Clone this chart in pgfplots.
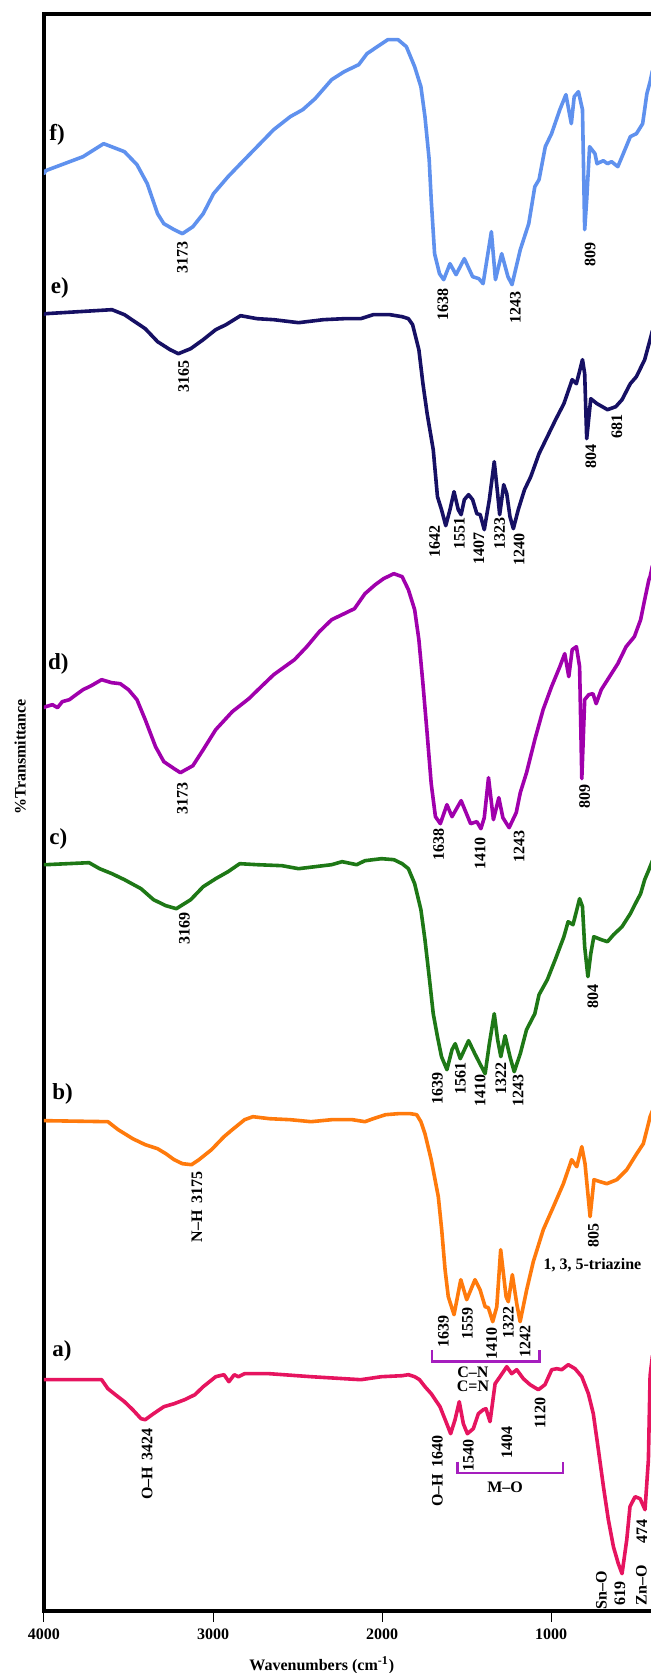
\documentclass[border=0pt]{standalone}
\usepackage{fontspec}
\setmainfont{Liberation Serif}
\usepackage{pgfplots}
\pgfplotsset{compat=1.18}
\usetikzlibrary{calc}
\definecolor{cf}{RGB}{95,145,238}
\definecolor{ce}{RGB}{22,16,100}
\definecolor{cd}{RGB}{160,0,172}
\definecolor{cc}{RGB}{30,120,22}
\definecolor{cb}{RGB}{255,122,12}
\definecolor{ca}{RGB}{230,20,95}
\definecolor{cbr}{RGB}{165,30,190}
\newcommand{\lf}{\fontsize{8}{9.6}\selectfont\bfseries}
\newcommand{\pf}{\fontsize{11.5}{13}\selectfont\bfseries}
\tikzset{pk/.style={rotate=90,font=\lf,inner sep=0pt},
 pl/.style={font=\pf,inner sep=0pt,anchor=west}}
\begin{document}
\begin{tikzpicture}
\begin{axis}[name=ax, scale only axis, width=306pt, height=798.2pt,
 x dir=reverse, xmin=379, xmax=4000, ymin=0, ymax=1596.4,
 axis line style={line width=2pt},
 xtick={4000,3000,2000,1000}, xticklabels={4000,3000,2000,1000},
 xtick pos=left, ytick=\empty,
 tick align=outside, major tick length=5.5pt,
 tick style={line width=0.5pt,black},
 xticklabel style={font=\lf},
 xlabel={Wavenumbers (cm\textsuperscript{-1})},
 xlabel style={font=\lf, at={(axis description cs:0.454,-0.034)}, anchor=center},
 ylabel={\%Transmittance},
 ylabel style={font=\lf, at={(axis description cs:-0.039,0.535)}, anchor=center},
 clip mode=individual,
 every axis plot/.append style={line width=1.8pt, line join=round, line cap=round},
]
% f
\addplot[cf] coordinates {(4000,1437)(3990,1440)(3769,1454)(3647,1467)(3524,1459)(3450,1446)(3389,1427)(3328,1397)(3291,1387)(3230,1381)(3181,1377)(3119,1384)(3058,1397)(2997,1417)(2911,1434)(2837,1447)(2739,1464)(2641,1481)(2543,1494)(2469,1501)(2396,1512)(2298,1531)(2224,1539)(2138,1546)(2089,1557)(2028,1564)(1966,1571)(1905,1571)(1856,1564)(1807,1544)(1770,1524)(1746,1494)(1721,1451)(1709,1411)(1689,1357)(1660,1337)(1635,1331)(1598,1347)(1562,1336)(1513,1352)(1464,1334)(1427,1332)(1402,1327)(1353,1379)(1329,1331)(1292,1357)(1255,1334)(1231,1326)(1182,1361)(1132,1387)(1096,1424)(1071,1431)(1034,1464)(997,1477)(948,1501)(912,1516)(880,1487)(863,1514)(838,1519)(814,1501)(801,1381)(789,1411)(772,1464)(740,1457)(728,1447)(691,1450)(666,1447)(642,1449)(605,1444)(580,1454)(531,1474)(495,1477)(458,1487)(433,1517)(414,1529)(400,1540)};
% e
\addplot[ce] coordinates {(4000,1296)(3990,1297)(3598,1301)(3524,1296)(3401,1282)(3328,1269)(3254,1261)(3205,1257)(3132,1262)(3058,1271)(2984,1281)(2923,1286)(2837,1295)(2739,1292)(2641,1291)(2494,1288)(2347,1291)(2224,1292)(2126,1292)(2052,1296)(1954,1296)(1881,1294)(1844,1292)(1819,1286)(1782,1261)(1758,1227)(1733,1197)(1697,1161)(1672,1114)(1648,1101)(1623,1085)(1598,1101)(1574,1119)(1549,1101)(1532,1096)(1513,1111)(1488,1116)(1464,1111)(1439,1097)(1419,1096)(1395,1081)(1365,1111)(1336,1149)(1316,1117)(1304,1096)(1280,1126)(1262,1117)(1243,1094)(1223,1082)(1194,1101)(1157,1121)(1120,1134)(1071,1157)(1022,1174)(973,1191)(924,1207)(875,1231)(850,1227)(814,1251)(801,1237)(789,1172)(765,1212)(728,1207)(666,1201)(617,1204)(580,1211)(531,1227)(495,1234)(446,1251)(414,1271)(400,1280)};
% d
\addplot[cd] coordinates {(4000,903)(3990,904)(3950,906)(3920,903)(3892,909)(3850,911)(3810,916)(3769,921)(3720,925)(3659,931)(3600,928)(3549,927)(3500,921)(3450,911)(3401,891)(3340,864)(3291,849)(3230,842)(3193,838)(3119,845)(3058,861)(2984,881)(2886,899)(2788,912)(2715,924)(2641,936)(2518,951)(2445,964)(2371,979)(2298,991)(2224,997)(2163,1002)(2101,1017)(2040,1026)(1991,1032)(1930,1037)(1881,1034)(1844,1021)(1807,1001)(1782,971)(1758,927)(1733,877)(1709,827)(1684,794)(1655,787)(1616,806)(1586,794)(1532,810)(1476,787)(1439,789)(1415,782)(1395,793)(1370,833)(1341,791)(1309,813)(1285,793)(1248,783)(1206,798)(1182,818)(1145,838)(1096,871)(1047,901)(997,924)(948,944)(919,957)(895,934)(875,961)(850,964)(831,944)(818,832)(801,911)(777,916)(752,917)(733,907)(703,921)(654,934)(605,947)(556,964)(507,974)(470,991)(446,1011)(421,1031)(414,1034)(400,1045)};
% c
\addplot[cc] coordinates {(4000,746)(3990,746)(3733,748)(3671,742)(3598,737)(3524,731)(3426,722)(3352,711)(3279,705)(3217,702)(3132,711)(3058,724)(2984,732)(2911,739)(2842,747)(2739,746)(2592,745)(2494,742)(2396,744)(2298,746)(2236,749)(2150,746)(2101,750)(2003,752)(1930,751)(1881,747)(1844,742)(1807,727)(1770,701)(1746,671)(1721,634)(1697,597)(1672,574)(1648,554)(1616,541)(1586,561)(1567,567)(1537,552)(1488,570)(1451,557)(1427,549)(1390,537)(1365,567)(1336,597)(1316,571)(1297,554)(1272,575)(1243,554)(1218,539)(1182,557)(1145,581)(1096,597)(1071,616)(1022,631)(973,652)(924,674)(899,689)(870,686)(831,712)(814,704)(801,664)(782,634)(765,657)(747,674)(703,671)(666,669)(630,676)(580,684)(531,697)(495,709)(470,717)(446,731)(421,741)(414,744)(400,750)};
% b
\addplot[cb] coordinates {(4000,490)(3990,490)(3622,489)(3561,481)(3475,472)(3401,466)(3328,462)(3279,457)(3230,451)(3181,447)(3127,446)(3083,451)(3009,461)(2935,474)(2886,481)(2813,491)(2764,494)(2666,492)(2543,491)(2420,489)(2298,491)(2175,491)(2101,489)(2052,492)(1979,496)(1905,497)(1832,497)(1795,496)(1770,489)(1746,477)(1709,451)(1667,414)(1647,381)(1627,341)(1608,314)(1574,296)(1534,331)(1499,311)(1450,331)(1420,321)(1390,304)(1371,303)(1345,289)(1321,304)(1298,361)(1266,314)(1253,309)(1229,336)(1203,307)(1183,289)(1144,321)(1105,349)(1046,381)(986,404)(927,427)(878,451)(848,444)(818,464)(799,447)(769,394)(746,431)(710,429)(670,427)(611,431)(552,441)(493,457)(454,467)(424,487)(414,494)(400,500)};
% a
\addplot[ca] coordinates {(4000,231)(3990,231)(3659,231)(3622,222)(3585,217)(3524,209)(3475,201)(3426,192)(3401,191)(3352,197)(3291,204)(3230,207)(3168,211)(3107,216)(3058,224)(2984,234)(2935,236)(2906,229)(2874,236)(2850,234)(2813,237)(2666,237)(2420,234)(2126,231)(2003,234)(1881,235)(1844,236)(1807,234)(1778,231)(1746,224)(1709,217)(1657,204)(1617,187)(1594,177)(1568,191)(1543,209)(1519,187)(1495,177)(1460,182)(1430,197)(1401,201)(1385,202)(1361,189)(1331,227)(1302,234)(1262,244)(1233,237)(1203,241)(1164,232)(1124,226)(1075,221)(1036,226)(996,241)(966,242)(937,241)(898,246)(858,242)(818,234)(779,217)(750,197)(720,161)(690,124)(661,91)(631,64)(602,47)(580,37)(552,71)(533,104)(503,114)(473,112)(444,101)(424,151)(414,235)(400,255)};
% brackets
\draw[cbr,line width=1.2pt] (axis cs:1706,260.7) -- (axis cs:1706,249) -- (axis cs:1069,249) -- (axis cs:1069,260.7);
\draw[cbr,line width=1.2pt] (axis cs:1554,149) -- (axis cs:1554,137.4) -- (axis cs:931,137.4) -- (axis cs:931,149);
% panel letters
\node[pl] at (axis cs:3970,1475.7) {f)};
\node[pl] at (axis cs:3961,1322.7) {e)};
\node[pl] at (axis cs:3978,946.7) {d)};
\node[pl] at (axis cs:3970,771.7) {c)};
\node[pl] at (axis cs:3953,516.7) {b)};
\node[pl] at (axis cs:3953,259.7) {a)};
% f labels
\node[pk] at (axis cs:3181,1352.7) {3173};
\node[pk] at (axis cs:1640,1305.7) {1638};
\node[pk] at (axis cs:1211,1302.7) {1243};
\node[pk] at (axis cs:769,1355.7) {809};
% e labels
\node[pk] at (axis cs:3173,1233.7) {3165};
\node[pk] at (axis cs:1689,1068.7) {1642};
\node[pk] at (axis cs:1542,1076.7) {1551};
\node[pk] at (axis cs:1427,1061.7) {1407};
\node[pk] at (axis cs:1304,1076.7) {1323};
\node[pk] at (axis cs:1189,1060.7) {1240};
\node[pk] at (axis cs:765,1153.7) {804};
\node[pk] at (axis cs:610,1183.7) {681};
% d labels
\node[pk] at (axis cs:3181,811.7) {3173};
\node[pk] at (axis cs:801,813.7) {809};
\node[pk] at (axis cs:1665,765.7) {1638};
\node[pk] at (axis cs:1420,756.7) {1410};
\node[pk] at (axis cs:1189,763.7) {1243};
% c labels
\node[pk] at (axis cs:3169,681.7) {3169};
\node[pk] at (axis cs:1672,521.7) {1639};
\node[pk] at (axis cs:1537,531.7) {1561};
\node[pk] at (axis cs:1420,519.7) {1410};
\node[pk] at (axis cs:1297,531.7) {1322};
\node[pk] at (axis cs:1194,519.7) {1243};
\node[pk] at (axis cs:752,613.7) {804};
% b labels
\node[pk] at (axis cs:3095,403.7) {N–H\, 3175};
\node[pk] at (axis cs:750,374.7) {805};
\node[font=\lf,inner sep=0pt,anchor=west] at (axis cs:1047,345.7) {1, 3, 5-triazine};
\node[pk] at (axis cs:1637,278.7) {1639};
\node[pk] at (axis cs:1495,286.7) {1559};
\node[pk] at (axis cs:1351,266.7) {1410};
\node[pk] at (axis cs:1253,287.7) {1322};
\node[pk] at (axis cs:1154,268.7) {1242};
\node[font=\lf,inner sep=0pt] at (axis cs:1462,238.7) {C–N};
\node[font=\lf,inner sep=0pt] at (axis cs:1462,224.7) {C=N};
% a labels
\node[pk] at (axis cs:3389,146.7) {O–H\, 3424};
\node[pk] at (axis cs:1672,139.7) {O–H\, 1640};
\node[pk] at (axis cs:1489,154.7) {1540};
\node[pk] at (axis cs:1262,167.7) {1404};
\node[pk] at (axis cs:1065,197.7) {1120};
\node[font=\lf,inner sep=0pt] at (axis cs:1272,123.7) {M–O};
\node[pk] at (axis cs:702,20.7) {Sn–O};
\node[pk] at (axis cs:592,16.7) {619};
\node[pk] at (axis cs:466,25.7) {Zn–O};
\node[pk] at (axis cs:462,78.7) {474};
\end{axis}
\pgfresetboundingbox
\path[use as bounding box] ($(ax.south west)+(-22pt,-31.15pt)$) rectangle ($(ax.north east)+(-3pt,7.15pt)$);
\end{tikzpicture}
\end{document}
